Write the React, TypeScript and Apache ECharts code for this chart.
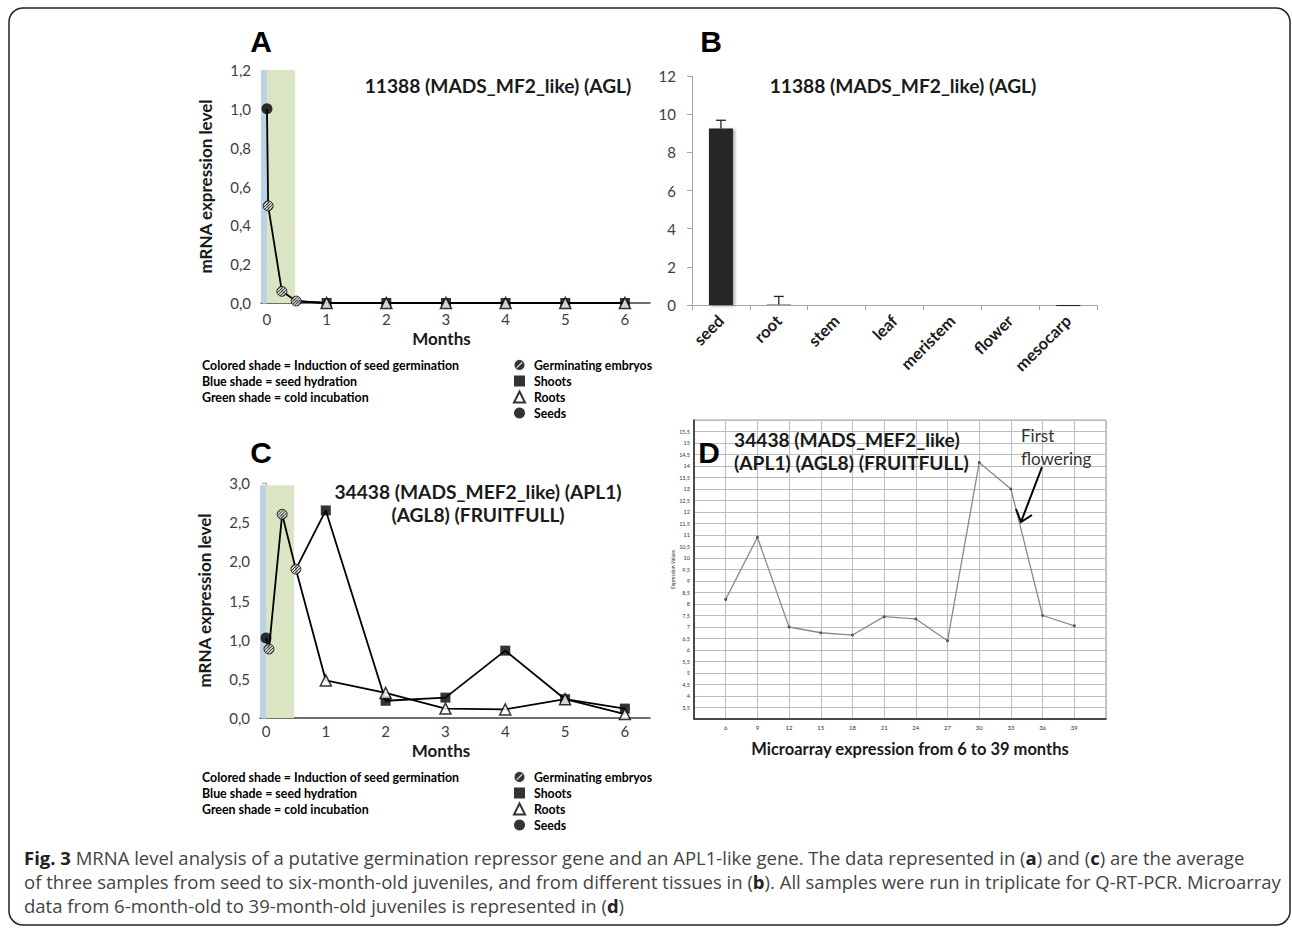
import React, { useEffect, useRef } from "react";
import * as echarts from "echarts";

// ---------- Panel A ----------
const monthTicks = [0, 1, 2, 3, 4, 5, 6];
const aSeeds = [[0, 1.0]];
const aEmbryos = [[0.02, 0.5], [0.25, 0.06], [0.49, 0.01]];
const aShoots = [[1, 0], [2, 0], [3, 0], [4, 0], [5, 0], [6, 0]];
const aRoots = [[1, 0], [2, 0], [3, 0], [4, 0], [5, 0], [6, 0]];
const blueShade = [-0.1, 0];
const greenShade = [0, 0.47];

// ---------- Panel B ----------
const tissues = ["seed", "root", "stem", "leaf", "meristem", "flower", "mesocarp"];
const tissueValues = [9.25, 0.02, 0, 0, 0, 0, -0.05];
const tissueErrors = [0.43, 0.43, 0, 0, 0, 0, 0];

// ---------- Panel C ----------
const cSeeds = [[0, 1.02]];
const cEmbryos = [[0.05, 0.88], [0.27, 2.6], [0.5, 1.9]];
const cShoots = [[1, 2.65], [2, 0.22], [3, 0.26], [4, 0.86], [5, 0.24], [6, 0.12]];
const cRoots = [[1, 0.48], [2, 0.32], [3, 0.12], [4, 0.11], [5, 0.24], [6, 0.05]];

// ---------- Panel D ----------
const microMonths = [6, 9, 12, 15, 18, 21, 24, 27, 30, 33, 36, 39];
const microValues = [8.2, 10.9, 7.0, 6.75, 6.65, 7.45, 7.35, 6.4, 14.15, 13.0, 7.5, 7.05];

const legendNames = ["Germinating embryos", "Shoots", "Roots", "Seeds"];
const legendNotes = [
  "Colored shade = Induction of seed germination",
  "Blue shade = seed hydration",
  "Green shade = cold incubation",
];

const HATCH =
  "path://M10,0 A10,10 0 1,1 -10,0 A10,10 0 1,1 10,0 Z M-7.07,7.07 L7.07,-7.07 M-3.4,9.4 L9.4,-3.4 M-9.4,3.4 L3.4,-9.4 M2.26,9.74 L9.74,2.26 M-9.74,-2.26 L-2.26,-9.74";
const SLASHED = "path://M10,0 A10,10 0 1,1 -10,0 A10,10 0 1,1 10,0 Z M-5,5 L5,-5";

const F = "Lato, 'Open Sans', sans-serif";
const BLUE = "#bcd0e6";
const GREEN = "#d9e5c3";

const comma1 = (v: number) => v.toFixed(1).replace(".", ",");
const commaD = (v: number) => (Number.isInteger(v) ? String(v) : String(v).replace(".", ","));

function timeAxes(
  gi: number,
  min: number,
  max: number,
  interval: number,
  labelMargin: number,
  monthsGap: number
) {
  const x = {
    type: "value",
    gridIndex: gi,
    min: -0.1,
    max: 6.42,
    axisLine: { show: true, onZero: false, lineStyle: { color: "#404040", width: 1.5 } },
    axisTick: { show: false },
    splitLine: { show: false },
    axisLabel: {
      customValues: monthTicks,
      fontSize: 15,
      color: "#404040",
      fontFamily: F,
      margin: labelMargin,
    },
    name: "Months",
    nameLocation: "middle",
    nameGap: monthsGap,
    nameTextStyle: {
      fontSize: 17,
      fontWeight: "bold",
      color: "#1a1a1a",
      fontFamily: F,
      padding: [0, 28, 0, 0],
    },
  };
  const y = {
    type: "value",
    gridIndex: gi,
    min,
    max,
    interval,
    axisLine: { show: true, lineStyle: { color: "#a6a6a6", width: 1 } },
    axisTick: { show: true, length: 4, lineStyle: { color: "#a6a6a6" } },
    splitLine: { show: false },
    axisLabel: { formatter: comma1, fontSize: 15, color: "#404040", fontFamily: F, margin: 10 },
    name: "mRNA expression level",
    nameLocation: "middle",
    nameRotate: 90,
    nameGap: 47,
    nameTextStyle: { fontSize: 17, fontWeight: "bold", color: "#1a1a1a", fontFamily: F },
  };
  return { x, y };
}

function timeSeries(
  ai: number,
  seeds: number[][],
  embryos: number[][],
  shoots: number[][],
  roots: number[][],
  shadeTop: number
) {
  const last = embryos[embryos.length - 1];
  const base = { xAxisIndex: ai, yAxisIndex: ai, silent: true, animation: false };
  const lineStyle = { color: "#000", width: 1.8 };
  return [
    {
      ...base,
      type: "line",
      data: [],
      z: 1,
      markArea: {
        silent: true,
        data: [
          [
            { xAxis: blueShade[0], yAxis: 0, itemStyle: { color: BLUE } },
            { xAxis: blueShade[1], yAxis: shadeTop },
          ],
          [
            { xAxis: greenShade[0], yAxis: 0, itemStyle: { color: GREEN } },
            { xAxis: greenShade[1], yAxis: shadeTop },
          ],
        ],
      },
    },
    { ...base, type: "line", data: [...seeds, ...embryos], symbol: "none", lineStyle, z: 2 },
    { ...base, type: "line", data: [last, ...shoots], symbol: "none", lineStyle, z: 2 },
    { ...base, type: "line", data: [last, ...roots], symbol: "none", lineStyle, z: 2 },
    {
      ...base,
      type: "scatter",
      name: "Germinating embryos",
      data: embryos,
      symbol: HATCH,
      symbolSize: 10,
      itemStyle: { color: "#d0d0d0", borderColor: "#111", borderWidth: 1 },
      z: 3,
    },
    {
      ...base,
      type: "scatter",
      name: "Shoots",
      data: shoots,
      symbol: "rect",
      symbolSize: 10,
      itemStyle: { color: "#000" },
      z: 3,
    },
    {
      ...base,
      type: "scatter",
      name: "Roots",
      data: roots,
      symbol: "triangle",
      symbolSize: 11,
      itemStyle: { color: "#fff", borderColor: "#000", borderWidth: 1.5 },
      z: 4,
    },
    {
      ...base,
      type: "scatter",
      name: "Seeds",
      data: seeds,
      symbol: "circle",
      symbolSize: 11,
      itemStyle: { color: "#000" },
      z: 3,
    },
  ];
}

function legendBlock(top: number) {
  return {
    show: true,
    data: [
      {
        name: legendNames[0],
        icon: SLASHED,
        itemStyle: { color: "#000", borderColor: "#fff", borderWidth: 1.2 },
      },
      { name: legendNames[1], icon: "rect" },
      { name: legendNames[2], icon: "triangle" },
      { name: legendNames[3], icon: "circle" },
    ],
    orient: "vertical",
    left: 513,
    top,
    padding: 0,
    itemWidth: 11,
    itemHeight: 11,
    itemGap: 2,
    selectedMode: false,
    textStyle: {
      fontSize: 12.3,
      fontWeight: "bold",
      color: "#000",
      fontFamily: F,
      lineHeight: 14,
      padding: [0, 0, 0, 4],
    },
  };
}

function noteTexts(y0: number) {
  return legendNotes.map((t, i) => ({
    type: "text",
    x: 202,
    y: y0 + i * 16,
    style: { text: t, fontSize: 12.4, fontWeight: "bold", fontFamily: F, fill: "#000", verticalAlign: "middle" },
  }));
}

function bigLetter(t: string, x: number, y: number) {
  return {
    type: "text",
    x,
    y,
    z: 10,
    style: {
      text: t,
      fontSize: 30,
      fontWeight: "bold",
      fontFamily: "'Liberation Sans', Arial, sans-serif",
      fill: "#000",
      align: "center",
      verticalAlign: "middle",
    },
  };
}

function title(t: string, x: number, y: number, align = "center") {
  return {
    type: "text",
    x,
    y,
    z: 10,
    style: {
      text: t,
      fontSize: 19.2,
      fontWeight: "bold",
      fontFamily: F,
      fill: "#1a1a1a",
      align,
      verticalAlign: "middle",
      lineHeight: 23,
    },
  };
}

const CAPF = "'Open Sans', sans-serif";
const capRich = { b: { fontWeight: "bold", fontSize: 18.5, fontFamily: CAPF, fill: "#222" } };
const captionLines = [
  "{b|Fig. 3} MRNA level analysis of a putative germination repressor gene and an APL1-like gene. The data represented in ({b|a}) and ({b|c}) are the average",
  "of three samples from seed to six-month-old juveniles, and from different tissues in ({b|b}). All samples were run in triplicate for Q-RT-PCR. Microarray",
  "data from 6-month-old to 39-month-old juveniles is represented in ({b|d})",
];

export default function App() {
  const ref = useRef<HTMLDivElement>(null);
  useEffect(() => {
    if (!ref.current) return;
    const chart = echarts.init(ref.current, undefined, { renderer: "svg", width: 1292, height: 929 });
    const A = timeAxes(0, 0, 1.2, 0.2, 8, 27);
    const C = timeAxes(2, 0, 3, 0.5, 5, 24);

    const option: any = {
      animation: false,
      backgroundColor: "#fff",
      textStyle: { fontFamily: F },
      grid: [
        { left: 261, top: 70, width: 389, height: 233 },
        { left: 692, top: 76, width: 405, height: 229 },
        { left: 260, top: 483, width: 390, height: 235 },
        { left: 694, top: 420, width: 412, height: 299, show: true, borderColor: "#999", borderWidth: 1 },
      ],
      xAxis: [
        A.x,
        {
          type: "category",
          gridIndex: 1,
          data: tissues,
          axisLine: { show: true, lineStyle: { color: "#a6a6a6" } },
          axisTick: { show: true, length: 5, lineStyle: { color: "#a6a6a6" } },
          axisLabel: {
            rotate: 45,
            interval: 0,
            fontSize: 16.5,
            fontWeight: "bold",
            color: "#1a1a1a",
            fontFamily: F,
            margin: 13,
          },
        },
        C.x,
        {
          type: "value",
          gridIndex: 3,
          min: 3,
          max: 42,
          interval: 3,
          axisLine: { show: true, onZero: false, lineStyle: { color: "#222", width: 1.5 } },
          axisTick: { show: false },
          splitLine: { show: true, lineStyle: { color: "#bdbdbd", width: 1 } },
          axisLabel: { fontSize: 6, color: "#333", showMinLabel: false, showMaxLabel: false, margin: 5 },
        },
      ],
      yAxis: [
        A.y,
        {
          type: "value",
          gridIndex: 1,
          min: 0,
          max: 12,
          interval: 2,
          axisLine: { show: true, lineStyle: { color: "#a6a6a6" } },
          axisTick: { show: true, length: 5, lineStyle: { color: "#a6a6a6" } },
          splitLine: { show: false },
          axisLabel: { fontSize: 15, color: "#404040", fontFamily: F, margin: 16 },
        },
        C.y,
        {
          type: "value",
          gridIndex: 3,
          min: 3,
          max: 16,
          interval: 0.5,
          axisLine: { show: true, onZero: false, lineStyle: { color: "#222", width: 1.5 } },
          axisTick: { show: false },
          splitLine: { show: true, lineStyle: { color: "#bdbdbd", width: 1 } },
          axisLabel: { formatter: commaD, fontSize: 5.5, color: "#333", showMinLabel: false, showMaxLabel: false, margin: 4 },
          name: "Expression Values",
          nameLocation: "middle",
          nameRotate: 90,
          nameGap: 19,
          nameTextStyle: { fontSize: 5, color: "#333" },
        },
      ],
      legend: [legendBlock(358), legendBlock(770)],
      series: [
        ...timeSeries(0, aSeeds, aEmbryos, aShoots, aRoots, 1.2),
        {
          type: "bar",
          xAxisIndex: 1,
          yAxisIndex: 1,
          data: tissueValues,
          barWidth: 24,
          clip: false,
          silent: true,
          itemStyle: {
            color: "#262626",
            shadowBlur: 3,
            shadowColor: "rgba(0,0,0,0.35)",
            shadowOffsetX: 2,
            shadowOffsetY: 1,
          },
        },
        {
          type: "custom",
          xAxisIndex: 1,
          yAxisIndex: 1,
          silent: true,
          z: 5,
          data: tissues.map((t, i) => [i, tissueValues[i], tissueErrors[i]]),
          encode: { x: 0, y: 1 },
          renderItem: (params: any, api: any) => {
            const err = api.value(2);
            if (!err) return null;
            const v = api.value(1);
            const b = api.coord([api.value(0), v]);
            const t = api.coord([api.value(0), v + err]);
            const st = { stroke: "#262626", lineWidth: 1.3 };
            return {
              type: "group",
              children: [
                { type: "line", shape: { x1: t[0], y1: b[1], x2: t[0], y2: t[1] }, style: st },
                { type: "line", shape: { x1: t[0] - 5, y1: t[1], x2: t[0] + 5, y2: t[1] }, style: st },
              ],
            };
          },
        },
        ...timeSeries(2, cSeeds, cEmbryos, cShoots, cRoots, 2.97),
        {
          type: "line",
          xAxisIndex: 3,
          yAxisIndex: 3,
          silent: true,
          data: microMonths.map((m, i) => [m, microValues[i]]),
          symbol: "circle",
          symbolSize: 3,
          lineStyle: { color: "#8a8a8a", width: 1.3 },
          itemStyle: { color: "#555" },
          z: 3,
        },
      ],
      graphic: [
        {
          type: "rect",
          shape: { x: 9, y: 8, width: 1281, height: 917, r: 14 },
          style: { fill: "none", stroke: "#222", lineWidth: 1.5 },
          silent: true,
        },
        bigLetter("A", 261, 41),
        bigLetter("B", 711, 41),
        bigLetter("C", 261, 452),
        bigLetter("D", 709, 452),
        title("11388 (MADS_MF2_like) (AGL)", 498, 85),
        title("11388 (MADS_MF2_like) (AGL)", 903, 85),
        title("34438 (MADS_MEF2_like) (APL1)\n(AGL8) (FRUITFULL)", 478, 503),
        title("34438 (MADS_MEF2_like)\n(APL1) (AGL8) (FRUITFULL)", 734, 451, "left"),
        {
          type: "text",
          x: 1021,
          y: 447,
          z: 10,
          style: {
            text: "First\nflowering",
            fontSize: 17,
            fontFamily: F,
            fill: "#333",
            align: "left",
            verticalAlign: "middle",
            lineHeight: 23,
          },
        },
        {
          type: "polyline",
          z: 10,
          shape: { points: [[1042, 467], [1021, 522]] },
          style: { stroke: "#000", lineWidth: 2, fill: "none" },
        },
        {
          type: "polyline",
          z: 10,
          shape: { points: [[1016, 509], [1021, 522], [1032, 515]] },
          style: { stroke: "#000", lineWidth: 2, fill: "none" },
        },
        {
          type: "text",
          x: 910,
          y: 749,
          style: {
            text: "Microarray expression from 6 to 39 months",
            fontSize: 16.5,
            fontWeight: "bold",
            fontFamily: F,
            fill: "#1a1a1a",
            align: "center",
            verticalAlign: "middle",
          },
        },
        ...noteTexts(365),
        ...noteTexts(777),
        ...captionLines.map((t, i) => ({
          type: "text",
          x: 24,
          y: 857 + i * 24,
          style: {
            text: t,
            fontSize: 18.5,
            fontFamily: CAPF,
            fill: "#444",
            verticalAlign: "middle",
            rich: capRich,
          },
        })),
      ],
    };
    chart.setOption(option);
    return () => chart.dispose();
  }, []);
  return (
    <div
      ref={ref}
      style={{ position: "absolute", left: 0, top: 0, width: 1292, height: 929, background: "#fff" }}
    />
  );
}
